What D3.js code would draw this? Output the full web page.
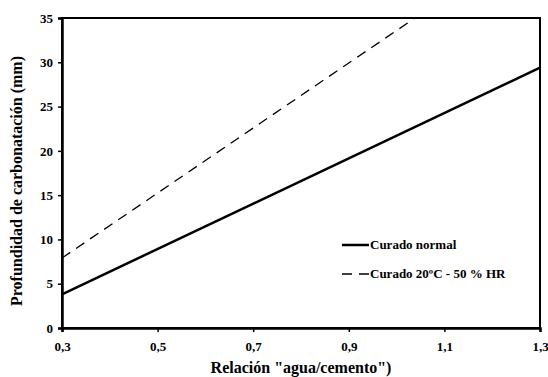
<!DOCTYPE html>
<html><head><meta charset="utf-8">
<script src="https://cdn.jsdelivr.net/npm/d3@7"></script>
<style>body{margin:0;background:#fff}svg{display:block}text{font-family:"Liberation Serif","Times New Roman",serif;font-weight:bold;fill:#000}</style>
</head><body>
<svg id="c" width="548" height="377"></svg>
<script>
const xValues = [0.3, 1.3];
const normalValues = [3.8, 29.4];
const curado20Values = [7.9, 44.6];
const seriesNames = ["Curado normal", "Curado 20ºC - 50 % HR"];
const xTicks = [0.3, 0.5, 0.7, 0.9, 1.1, 1.3];
const yTicks = [0, 5, 10, 15, 20, 25, 30, 35];

const svg = d3.select("#c");
const m = {l: 62, r: 540, t: 18, b: 328};
const x = d3.scaleLinear().domain([0.3, 1.3]).range([m.l, m.r]);
const y = d3.scaleLinear().domain([0, 35]).range([m.b, m.t]);
const fmt = d => String(d).replace(".", ",");

svg.append("defs").append("clipPath").attr("id", "clip")
  .append("rect").attr("x", m.l).attr("y", m.t).attr("width", m.r - m.l).attr("height", m.b - m.t);

// frame
svg.append("rect").attr("x", m.l).attr("y", m.t).attr("width", m.r - m.l).attr("height", m.b - m.t)
  .attr("fill", "none").attr("stroke", "#000").attr("stroke-width", 2);

const xa = svg.append("g").attr("transform", `translate(0,${m.b})`)
  .call(d3.axisBottom(x).tickValues(xTicks).tickFormat(fmt).tickSize(4).tickPadding(10));
const ya = svg.append("g").attr("transform", `translate(${m.l},0)`)
  .call(d3.axisLeft(y).tickValues(yTicks).tickSize(4).tickPadding(5));
[xa, ya].forEach(a => {
  a.select(".domain").attr("stroke-width", 2.5);
  a.selectAll(".tick line").attr("stroke-width", 1.5);
  a.selectAll("text").attr("font-size", 13).attr("font-family", '"Liberation Serif",serif').attr("font-weight", "bold");
});

const line = d3.line().x(d => x(d[0])).y(d => y(d[1]));
const g = svg.append("g").attr("clip-path", "url(#clip)");
g.append("path").datum(xValues.map((v, i) => [v, normalValues[i]]))
  .attr("d", line).attr("fill", "none").attr("stroke", "#000").attr("stroke-width", 2.5);
g.append("path").datum(xValues.map((v, i) => [v, curado20Values[i]]))
  .attr("d", line).attr("fill", "none").attr("stroke", "#000").attr("stroke-width", 1.3)
  .attr("stroke-dasharray", "10,7");

// legend
const lg = svg.append("g");
lg.append("line").attr("x1", 342).attr("x2", 369).attr("y1", 245).attr("y2", 245)
  .attr("stroke", "#000").attr("stroke-width", 2.5);
lg.append("line").attr("x1", 342).attr("x2", 369).attr("y1", 274).attr("y2", 274)
  .attr("stroke", "#000").attr("stroke-width", 1.5).attr("stroke-dasharray", "10,7");
lg.append("text").attr("x", 370).attr("y", 249).attr("font-size", 13).text(seriesNames[0]);
lg.append("text").attr("x", 370).attr("y", 278).attr("font-size", 13).text(seriesNames[1]);

// axis titles
svg.append("text").attr("x", 301).attr("y", 373).attr("text-anchor", "middle")
  .attr("font-size", 16).text('Relación "agua/cemento")');
svg.append("text").attr("transform", `translate(22,181) rotate(-90)`)
  .attr("text-anchor", "middle").attr("font-size", 16).text("Profundidad de carbonatación (mm)");
</script>
</body></html>
